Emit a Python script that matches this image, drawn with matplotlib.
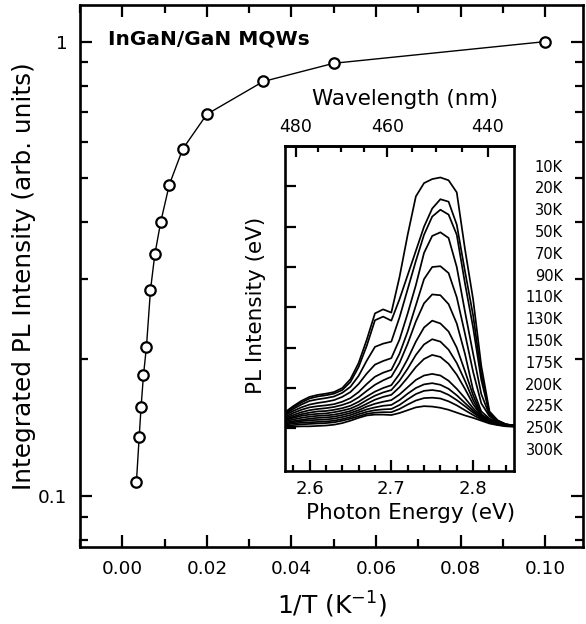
import numpy as np
import matplotlib
matplotlib.use("Agg")
import matplotlib.pyplot as plt
from matplotlib.ticker import (FixedLocator, FixedFormatter, MultipleLocator,
                               NullFormatter, LogLocator, FormatStrFormatter)

# ---------------- data: main panel ----------------
temperatures = np.array([10, 20, 30, 50, 70, 90, 110, 130, 150, 175, 200, 225, 250, 300])
inv_T = 1.0 / temperatures
integrated_intensity = [1.0, 0.896, 0.817, 0.692, 0.580, 0.484, 0.401, 0.340,
                        0.284, 0.213, 0.184, 0.157, 0.135, 0.107]
main_xticks = [0.00, 0.02, 0.04, 0.06, 0.08, 0.10]
main_yticks = [0.1, 1]
main_yticklabels = ["0.1", "1"]

# ---------------- data: inset spectra ----------------
energy = np.linspace(2.57, 2.85, 29)   # eV sample positions (0.01 eV step)
temp_labels = ["10K", "20K", "30K", "50K", "70K", "90K", "110K", "130K",
               "150K", "175K", "200K", "225K", "250K", "300K"]
spec_10K = [0.40, 0.55, 0.68, 0.78, 0.83, 0.86, 0.90, 1.00, 1.22, 1.62, 2.20, 2.85, 2.95, 2.87,
            3.75, 4.80, 5.75, 6.08, 6.18, 6.22, 6.15, 5.85, 4.45, 3.20, 1.55, 0.42, 0.20, 0.10, 0.07]
spec_20K = [0.38, 0.52, 0.64, 0.74, 0.79, 0.82, 0.86, 0.95, 1.15, 1.52, 2.05, 2.68, 2.77, 2.67,
            3.20, 3.80, 4.40, 5.00, 5.45, 5.68, 5.62, 5.05, 3.90, 2.80, 1.35, 0.38, 0.19, 0.10, 0.07]
spec_30K = [0.35, 0.48, 0.59, 0.68, 0.72, 0.75, 0.79, 0.88, 1.03, 1.30, 1.68, 2.02, 2.10, 2.15,
            2.75, 3.45, 4.15, 4.80, 5.25, 5.42, 5.30, 4.80, 3.60, 2.50, 1.20, 0.36, 0.18, 0.10, 0.07]
spec_50K = [0.32, 0.43, 0.52, 0.59, 0.63, 0.66, 0.70, 0.78, 0.90, 1.10, 1.36, 1.58, 1.67, 1.74,
            2.20, 2.85, 3.55, 4.35, 4.77, 4.86, 4.72, 4.00, 2.90, 1.85, 0.85, 0.33, 0.17, 0.09, 0.07]
spec_70K = [0.28, 0.38, 0.46, 0.52, 0.55, 0.57, 0.60, 0.66, 0.75, 0.90, 1.10, 1.28, 1.38, 1.45,
            1.85, 2.40, 3.05, 3.70, 4.00, 4.02, 3.85, 3.25, 2.35, 1.40, 0.62, 0.30, 0.16, 0.09, 0.07]
spec_90K = [0.25, 0.33, 0.40, 0.45, 0.48, 0.50, 0.53, 0.58, 0.65, 0.77, 0.93, 1.08, 1.19, 1.28,
            1.62, 2.10, 2.65, 3.10, 3.32, 3.30, 3.08, 2.60, 1.85, 0.95, 0.42, 0.24, 0.15, 0.09, 0.07]
spec_110K = [0.22, 0.29, 0.35, 0.39, 0.42, 0.43, 0.46, 0.50, 0.56, 0.66, 0.79, 0.91, 1.00, 1.07,
             1.35, 1.72, 2.15, 2.50, 2.67, 2.60, 2.40, 2.00, 1.42, 0.82, 0.35, 0.21, 0.14, 0.09, 0.07]
spec_130K = [0.20, 0.26, 0.31, 0.34, 0.36, 0.37, 0.40, 0.44, 0.49, 0.58, 0.70, 0.81, 0.89, 0.95,
             1.18, 1.48, 1.82, 2.08, 2.21, 2.15, 1.95, 1.62, 1.18, 0.70, 0.33, 0.20, 0.13, 0.08, 0.06]
spec_150K = [0.17, 0.22, 0.26, 0.29, 0.31, 0.32, 0.34, 0.38, 0.43, 0.51, 0.61, 0.71, 0.78, 0.83,
             1.02, 1.26, 1.52, 1.72, 1.82, 1.77, 1.60, 1.33, 0.98, 0.60, 0.31, 0.19, 0.12, 0.08, 0.06]
spec_175K = [0.14, 0.18, 0.21, 0.24, 0.26, 0.27, 0.29, 0.33, 0.38, 0.45, 0.54, 0.61, 0.66, 0.70,
             0.84, 1.02, 1.20, 1.31, 1.35, 1.31, 1.18, 0.98, 0.75, 0.50, 0.29, 0.18, 0.12, 0.08, 0.06]
spec_200K = [0.12, 0.15, 0.18, 0.20, 0.21, 0.22, 0.24, 0.28, 0.33, 0.40, 0.47, 0.52, 0.56, 0.58,
             0.70, 0.86, 1.00, 1.09, 1.12, 1.08, 0.98, 0.82, 0.63, 0.44, 0.27, 0.17, 0.11, 0.07, 0.06]
spec_225K = [0.09, 0.12, 0.14, 0.15, 0.16, 0.17, 0.19, 0.23, 0.28, 0.35, 0.41, 0.45, 0.47, 0.48,
             0.58, 0.72, 0.85, 0.93, 0.95, 0.92, 0.83, 0.70, 0.55, 0.39, 0.25, 0.16, 0.10, 0.07, 0.05]
spec_250K = [0.06, 0.08, 0.10, 0.11, 0.12, 0.13, 0.15, 0.19, 0.24, 0.30, 0.36, 0.39, 0.40, 0.40,
             0.48, 0.59, 0.69, 0.75, 0.76, 0.74, 0.67, 0.57, 0.45, 0.33, 0.22, 0.14, 0.09, 0.06, 0.05]
spec_300K = [0.04, 0.04, 0.05, 0.05, 0.06, 0.07, 0.09, 0.13, 0.19, 0.26, 0.32, 0.34, 0.34, 0.33,
             0.38, 0.45, 0.52, 0.55, 0.54, 0.51, 0.46, 0.39, 0.32, 0.26, 0.19, 0.12, 0.08, 0.05, 0.04]
spectra = [spec_10K, spec_20K, spec_30K, spec_50K, spec_70K, spec_90K, spec_110K,
           spec_130K, spec_150K, spec_175K, spec_200K, spec_225K, spec_250K, spec_300K]
inset_xticks = [2.6, 2.7, 2.8]
wavelength_ticks = [440, 460, 480]
wavelength_minor = [445, 450, 455, 465, 470, 475]

HC = 1239.84  # eV*nm


def ev_to_nm(e):
    e = np.asarray(e, dtype=float)
    with np.errstate(divide="ignore", invalid="ignore"):
        return HC / e


def nm_to_ev(w):
    w = np.asarray(w, dtype=float)
    with np.errstate(divide="ignore", invalid="ignore"):
        return HC / w


W, H = 586, 624
fig = plt.figure(figsize=(W / 100, H / 100), dpi=100)

# ---------------- main axes ----------------
ax = fig.add_axes([80 / W, (H - 547.3) / H, 503.3 / W, 542.3 / H])
ax.plot(inv_T, integrated_intensity, "-o", color="k", lw=1.0, ms=7.5,
        mfc="white", mec="k", mew=1.6, zorder=3)
ax.set_yscale("log")
ax.set_xlim(-0.01, 0.109)
ax.set_ylim(0.077, 1.204)
ax.xaxis.set_major_locator(FixedLocator(main_xticks))
ax.xaxis.set_major_formatter(FormatStrFormatter("%.2f"))
ax.xaxis.set_minor_locator(MultipleLocator(0.01))
ax.yaxis.set_major_locator(FixedLocator(main_yticks))
ax.yaxis.set_major_formatter(FixedFormatter(main_yticklabels))
ax.yaxis.set_minor_locator(LogLocator(base=10, subs=np.arange(2, 10), numticks=20))
ax.yaxis.set_minor_formatter(NullFormatter())
ax.tick_params(which="both", direction="in", top=True, right=True, width=1.6,
               labelsize=13.3, pad=9)
ax.tick_params(which="major", length=8.4)
ax.tick_params(which="minor", length=5.5)
for s in ax.spines.values():
    s.set_linewidth(1.9)
ax.set_xlabel("1/T (K$^{-1}$)", fontsize=18)
ax.xaxis.set_label_coords(0.5, -0.079)
ax.set_ylabel("Integrated PL Intensity (arb. units)", fontsize=17.8)
ax.yaxis.set_label_coords(-0.088, 0.5)
ax.text(0.0562, 0.9364, "InGaN/GaN MQWs", transform=ax.transAxes, fontsize=14.5,
        fontweight="bold", va="center", ha="left")

# ---------------- inset ----------------
axin = fig.add_axes([285 / W, (H - 470.7) / H, 229 / W, 324.7 / H])
for spec in spectra:
    axin.plot(energy, spec, color="k", lw=1.25, solid_joinstyle="round")
axin.set_xlim(2.57, 2.85)
axin.set_ylim(-1.05, 7.0)
axin.xaxis.set_major_locator(FixedLocator(inset_xticks))
axin.xaxis.set_major_formatter(FormatStrFormatter("%.1f"))
axin.xaxis.set_minor_locator(MultipleLocator(0.02))
axin.yaxis.set_major_locator(FixedLocator(range(0, 7)))
axin.yaxis.set_major_formatter(NullFormatter())
axin.tick_params(which="both", direction="in", top=False, right=False, width=1.6,
                 labelsize=13, pad=6.5)
axin.tick_params(which="major", length=8)
axin.tick_params(which="minor", length=4.2)
for s in axin.spines.values():
    s.set_linewidth(1.9)
axin.set_xlabel("Photon Energy (eV)", fontsize=15.5)
axin.xaxis.set_label_coords(0.55, -0.098)
axin.set_ylabel("PL Intensity (eV)", fontsize=15.5)
axin.yaxis.set_label_coords(-0.085, 0.51)

secax = axin.secondary_xaxis("top", functions=(ev_to_nm, nm_to_ev))
secax.xaxis.set_major_locator(FixedLocator(wavelength_ticks))
secax.xaxis.set_minor_locator(FixedLocator(wavelength_minor))
secax.xaxis.set_major_formatter(FormatStrFormatter("%d"))
secax.tick_params(which="both", direction="in", width=1.6, labelsize=12.5, pad=7.4)
secax.tick_params(which="major", length=8)
secax.tick_params(which="minor", length=4.2)
secax.spines["top"].set_linewidth(1.9)
secax.set_xlabel("Wavelength (nm)", fontsize=15.5)
secax.xaxis.set_label_coords(0.526, 1.125, transform=axin.transAxes)

# temperature labels column
for i, lab in enumerate(temp_labels):
    y_px = 171.5 + 21.8 * i
    fig.text(563 / W, 1 - y_px / H, lab, fontsize=10.5, ha="right", va="baseline")

fig.savefig("out.png", dpi=100, facecolor="white")
